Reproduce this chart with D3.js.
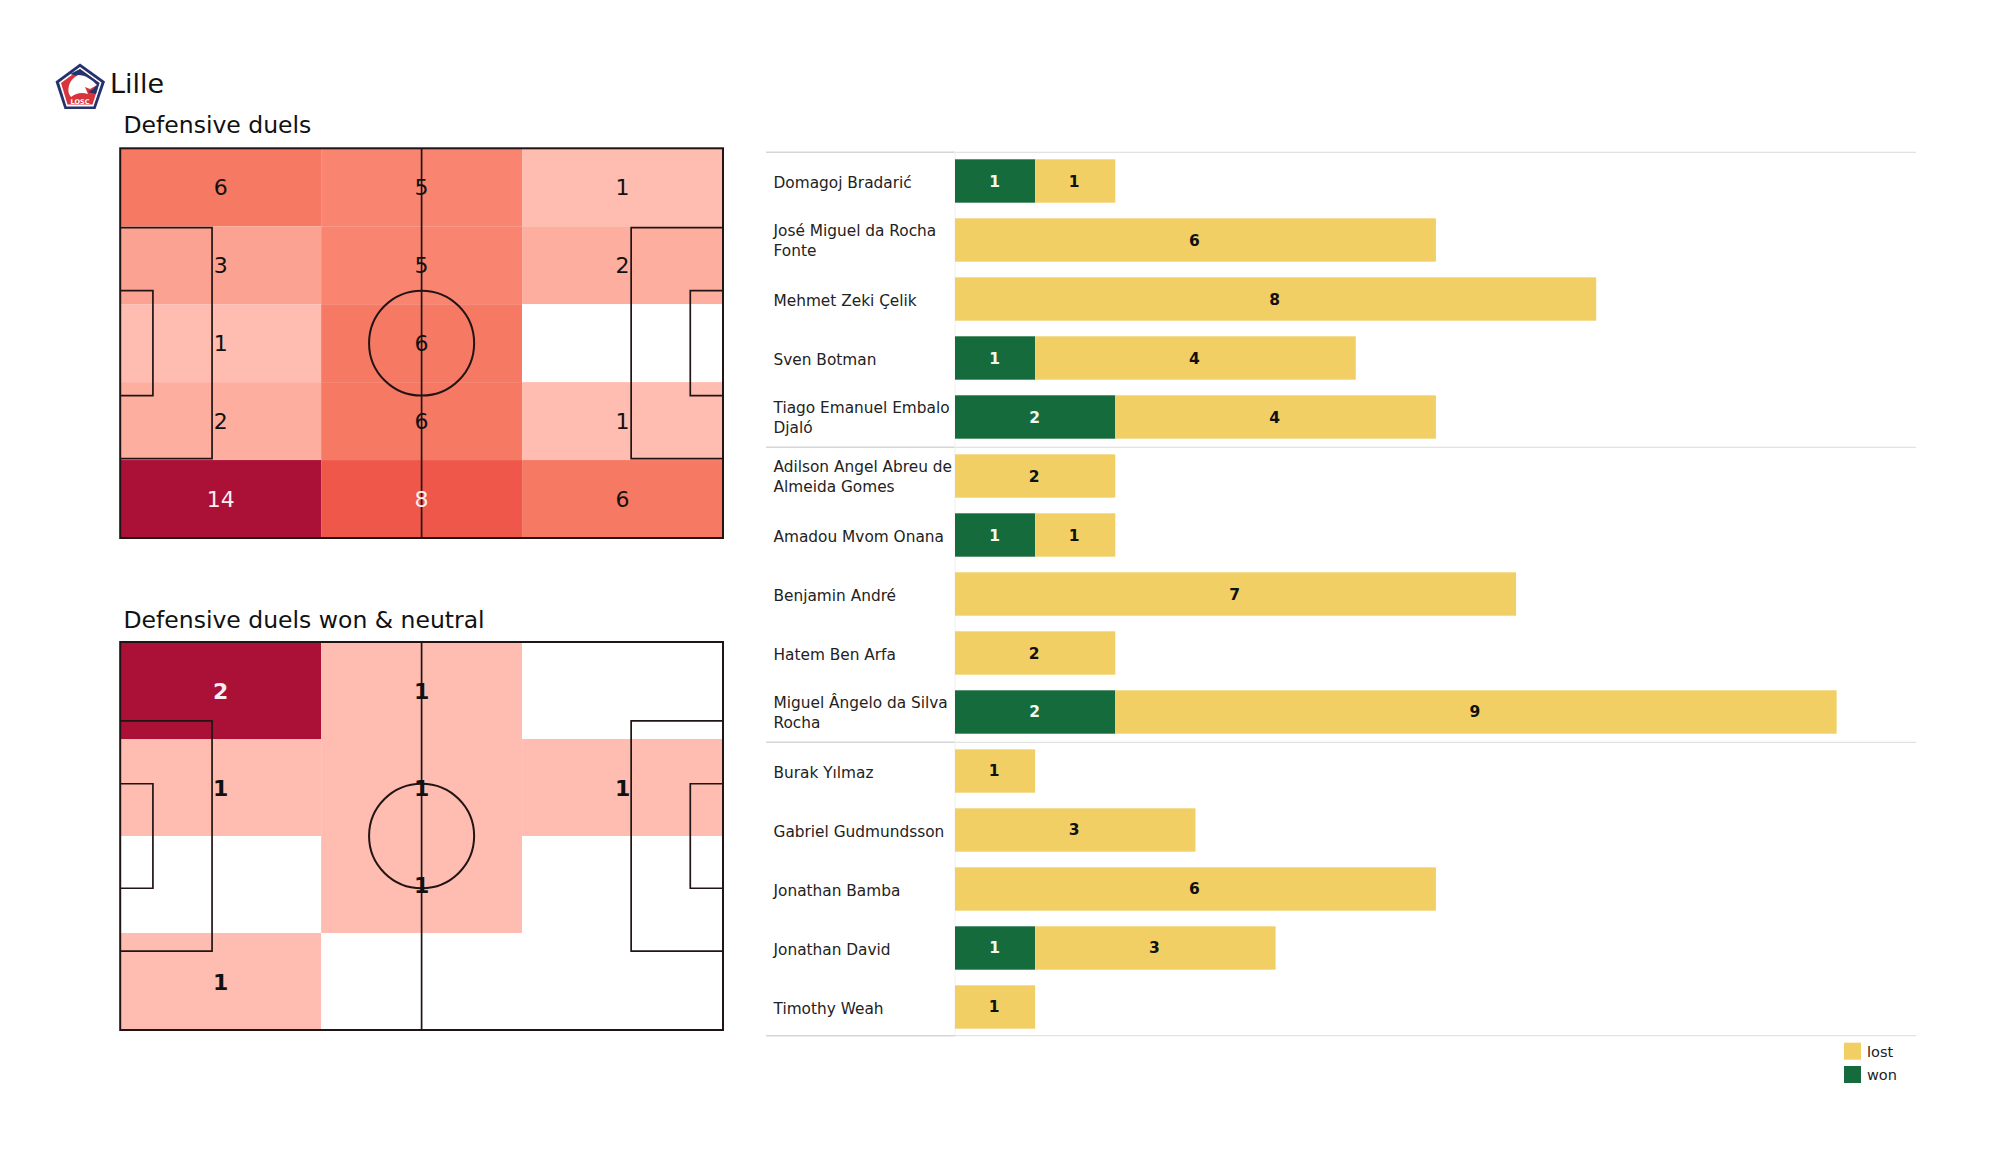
<!DOCTYPE html>
<html><head><meta charset="utf-8">
<script src="https://cdn.jsdelivr.net/npm/d3@7"></script>
<style>html,body{margin:0;padding:0;background:#fff}svg{display:block}text{font-family:"DejaVu Sans",sans-serif}</style>
</head><body><svg id="c" width="2000" height="1175"></svg>
<script>
const teamName = "Lille";
const pitchTitles = ["Defensive duels", "Defensive duels won & neutral"];
const duelsGrid = [[6,5,1],[3,5,2],[1,6,0],[2,6,1],[14,8,6]];
const wonGrid = [[2,1,0],[1,1,1],[0,1,0],[1,0,0]];
const duelsColorStops = [0,0.01,1,2,3,5,6,8,14];
const duelsColors = ["#ffffff","#ffbcb0","#ffbcb0","#feae9f","#fca292","#f98570","#f67963","#ee5749","#ab1036"];
const wonColorStops = [0,0.01,1,2];
const wonColors = ["#ffffff","#ffbcb0","#ffbcb0","#ab1036"];
const players = ["Domagoj Bradarić","José Miguel da Rocha\nFonte","Mehmet Zeki Çelik","Sven Botman","Tiago Emanuel Embalo\nDjaló","Adilson Angel Abreu de\nAlmeida Gomes","Amadou Mvom Onana","Benjamin André","Hatem Ben Arfa","Miguel Ângelo da Silva\nRocha","Burak Yılmaz","Gabriel Gudmundsson","Jonathan Bamba","Jonathan David","Timothy Weah"];
const won  = [1,0,0,1,2,0,1,0,0,2,0,0,0,1,0];
const lost = [1,6,8,4,4,2,1,7,2,9,1,3,6,3,1];
const legendLabels = ["lost","won"];
const wonColor = "#156b3b", lostColor = "#f1cf65";

const svg = d3.select("#c");
const ink = "#221414";

// header + logo
const logo = svg.append("g");
logo.append("path").attr("d","M80,63.5 L105,81.5 L95.5,109 L64.5,109 L55.5,81.5 Z").attr("fill","#23336e");
logo.append("path").attr("d","M80,67 L101.5,82.5 L93.5,106.5 L66.5,106.5 L59,82.5 Z").attr("fill","#fff");
logo.append("path").attr("d","M80,69 L99.5,83 L92.5,104.5 L67.5,104.5 L61,83 Z").attr("fill","#d8343c");
logo.append("path").attr("d","M80,69 L99.5,83 L96,94 L88,92 C92,90 96,88 96,84 C90,80 86,76 78,76 L70,74 Z").attr("fill","#23336e");
logo.append("path").attr("d","M78,75 C86,75 92,80 97,85 L90,89 L85,87 L88,94 C82,92 76,93 71,97 C66,92 68,80 78,75 Z").attr("fill","#fff");
logo.append("text").attr("x",80).attr("y",104).attr("text-anchor","middle").attr("font-size",6.5).attr("font-weight","bold").attr("fill","#fff").text("LOSC");

svg.append("text").attr("x",110).attr("y",93).attr("font-size",27).attr("fill","#111").text(teamName);

function drawPitch(top, bottom, grid, stops, colors, title, titleY, weight, lightAt) {
  const left = 120.2, right = 723;
  const px = d3.scaleLinear().domain([0,105]).range([left,right]);
  const py = d3.scaleLinear().domain([0,68]).range([top,bottom]);
  const col = d3.scaleBand().domain(d3.range(3)).range([left,right]);
  const row = d3.scaleBand().domain(d3.range(grid.length)).range([top,bottom]);
  const color = d3.scaleLinear().domain(stops).range(colors);
  svg.append("text").attr("x",123.5).attr("y",titleY).attr("font-size",23.5).attr("fill","#111").text(title);
  const cells = grid.flatMap((r,i)=>r.map((v,j)=>({v,i,j})));
  svg.append("g").selectAll("rect").data(cells).join("rect")
    .attr("x",d=>col(d.j)).attr("y",d=>row(d.i))
    .attr("width",col.bandwidth()).attr("height",row.bandwidth())
    .attr("fill",d=>color(d.v));
  const g = svg.append("g").attr("fill","none").attr("stroke",ink).attr("stroke-width",1.7);
  g.append("rect").attr("x",px(0)).attr("y",py(0)).attr("width",px(105)-px(0)).attr("height",py(68)-py(0)).attr("stroke-width",2);
  g.append("line").attr("x1",px(52.5)).attr("x2",px(52.5)).attr("y1",py(0)).attr("y2",py(68));
  g.append("ellipse").attr("cx",px(52.5)).attr("cy",py(34)).attr("rx",px(9.15)-px(0)).attr("ry",py(9.15)-py(0)).attr("stroke-width",2);
  [[0,16],[105,89]].forEach(([a,b])=>{
    g.append("path").attr("d",d3.line()([[px(a),py(13.84)],[px(b),py(13.84)],[px(b),py(54.16)],[px(a),py(54.16)]]));
  });
  [[0,5.7],[105,99.3]].forEach(([a,b])=>{
    g.append("path").attr("d",d3.line()([[px(a),py(24.84)],[px(b),py(24.84)],[px(b),py(43.16)],[px(a),py(43.16)]]));
  });
  svg.append("g").selectAll("text").data(cells.filter(d=>d.v>0)).join("text")
    .attr("x",d=>col(d.j)+col.bandwidth()/2)
    .attr("y",d=>row(d.i)+row.bandwidth()/2+8)
    .attr("text-anchor","middle").attr("font-size",22).attr("font-weight",weight)
    .attr("fill",d=>d.v>=lightAt?"#fbeeee":"#111").text(d=>d.v);
}
drawPitch(148.3,538,duelsGrid,duelsColorStops,duelsColors,pitchTitles[0],133,"normal",8);
drawPitch(642,1030,wonGrid,wonColorStops,wonColors,pitchTitles[1],628,"bold",2);

// bars
const x = d3.scaleLinear().domain([0,11]).range([955,955+11*80.15]);
const y = d3.scaleBand().domain(players).range([159.3,159.3+14*59+43.4]).paddingInner(0.2644);
const groupBreaks = [0,5,10,15];
groupBreaks.forEach(b=>{
  const yy = y(players[Math.min(b,14)]) + (b===15 ? y.bandwidth()+7 : -7);
  svg.append("line").attr("x1",766).attr("x2",955).attr("y1",yy).attr("y2",yy).attr("stroke","#d6d6d6").attr("stroke-width",1.4);
  svg.append("line").attr("x1",955).attr("x2",1916).attr("y1",yy).attr("y2",yy).attr("stroke","#e2e2e2").attr("stroke-width",1.3);
});
svg.append("line").attr("x1",955).attr("x2",955).attr("y1",152).attr("y2",1035).attr("stroke","#f0f0f0").attr("stroke-width",1);

const rows = players.map((name,i)=>({name,w:won[i],l:lost[i]}));
const bars = svg.append("g");
bars.selectAll(".w").data(rows.filter(d=>d.w>0)).join("rect").attr("class","w")
  .attr("x",x(0)).attr("y",d=>y(d.name)).attr("width",d=>x(d.w)-x(0)).attr("height",y.bandwidth()).attr("fill",wonColor);
bars.selectAll(".l").data(rows).join("rect").attr("class","l")
  .attr("x",d=>x(d.w)).attr("y",d=>y(d.name)).attr("width",d=>x(d.l)-x(0)).attr("height",y.bandwidth()).attr("fill",lostColor);
const vals = svg.append("g").attr("text-anchor","middle").attr("font-size",15.5).attr("font-weight","bold");
vals.selectAll(".wt").data(rows.filter(d=>d.w>0)).join("text").attr("class","wt")
  .attr("x",d=>x(d.w/2)-0.5).attr("y",d=>y(d.name)+y.bandwidth()/2+5.5).attr("fill","#f2f7f2").text(d=>d.w);
vals.selectAll(".lt").data(rows).join("text").attr("class","lt")
  .attr("x",d=>x(d.w+d.l/2)-1).attr("y",d=>y(d.name)+y.bandwidth()/2+5.5).attr("fill","#111").text(d=>d.l);
const names = svg.append("g").attr("font-size",15.35).attr("fill","#222");
rows.forEach(d=>{
  const parts = d.name.split("\n"), c = y(d.name)+y.bandwidth()/2;
  parts.forEach((p,k)=>{
    names.append("text").attr("x",773.5)
      .attr("y",parts.length===1 ? c+6.8 : c-4.3+k*20).text(p);
  });
});
// legend
const legY = d3.scalePoint().domain(legendLabels).range([1042.7,1066]);
const leg = svg.append("g");
leg.selectAll("rect").data(legendLabels).join("rect")
  .attr("x",1844).attr("y",d=>legY(d)).attr("width",17).attr("height",17)
  .attr("fill",d=>d==="lost"?lostColor:wonColor);
leg.selectAll("text").data(legendLabels).join("text")
  .attr("x",1867).attr("y",d=>legY(d)+14).attr("font-size",14.5).attr("fill","#222").text(d=>d);
</script></body></html>
